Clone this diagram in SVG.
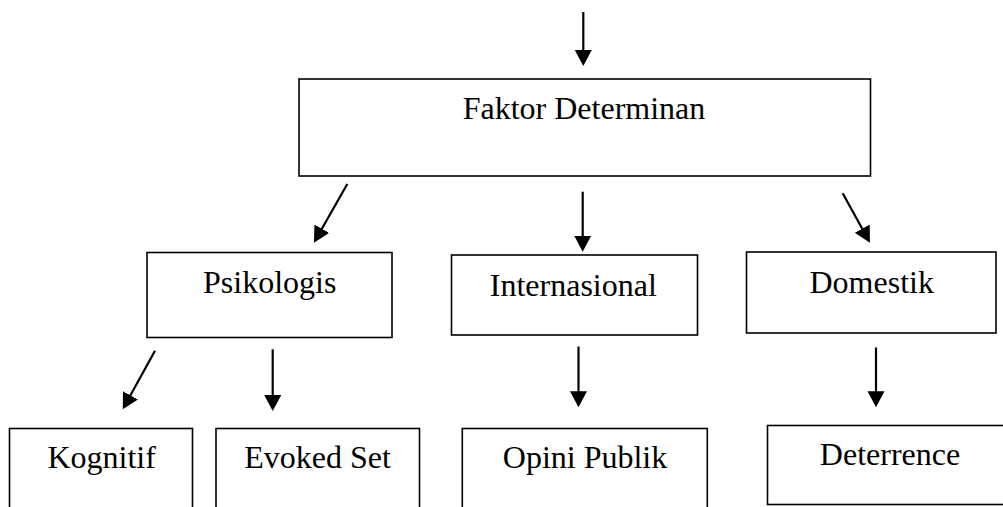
<svg xmlns="http://www.w3.org/2000/svg" width="1003" height="507" viewBox="0 0 1003 507">
<style>
.box{fill:#fff;stroke:#000;stroke-width:1.6}
.lbl{font-family:"Liberation Serif","Times New Roman",serif;font-size:32px;fill:#000;text-anchor:middle}
.arr{stroke:#000;stroke-width:2.2;fill:none;marker-end:url(#ah)}
</style>
<defs>
<marker id="ah" markerUnits="userSpaceOnUse" markerWidth="18" markerHeight="18" refX="8" refY="8.5" orient="auto">
<path d="M0,0 L16,8.5 L0,17 z" fill="#000"/>
</marker>
</defs>
<rect width="1003" height="507" fill="#fff"/>
<g id="connectors">
<line class="arr" x1="583.3" y1="12" x2="583.3" y2="58"/>
<line class="arr" x1="347.3" y1="184" x2="317.9" y2="235.7"/>
<line class="arr" x1="582.7" y1="191.7" x2="582.7" y2="243.7"/>
<line class="arr" x1="842.7" y1="193.3" x2="866.1" y2="235.7"/>
<line class="arr" x1="155" y1="350.7" x2="126.6" y2="402.3"/>
<line class="arr" x1="272.7" y1="349.3" x2="272.7" y2="403"/>
<line class="arr" x1="578.5" y1="346.5" x2="578.5" y2="399.3"/>
<line class="arr" x1="876" y1="347.5" x2="876" y2="399.3"/>
</g>
<g id="faktor-determinan">
<rect class="box" x="299" y="79" width="571.5" height="97"/>
<text class="lbl" x="584" y="119">Faktor Determinan</text>
</g>
<g id="psikologis">
<rect class="box" x="147" y="252.5" width="245" height="85"/>
<text class="lbl" x="269.7" y="292.7">Psikologis</text>
</g>
<g id="internasional">
<rect class="box" x="451.5" y="255" width="246" height="80"/>
<text class="lbl" x="573.3" y="296">Internasional</text>
</g>
<g id="domestik">
<rect class="box" x="746.5" y="252" width="249.5" height="81"/>
<text class="lbl" x="871.7" y="292.7">Domestik</text>
</g>
<g id="kognitif">
<rect class="box" x="9.5" y="428.5" width="183" height="100"/>
<text class="lbl" x="101.7" y="468.3">Kognitif</text>
</g>
<g id="evoked-set">
<rect class="box" x="216" y="428.5" width="203.5" height="100"/>
<text class="lbl" x="317.5" y="468.3">Evoked Set</text>
</g>
<g id="opini-publik">
<rect class="box" x="462.3" y="428.5" width="245" height="100"/>
<text class="lbl" x="585" y="467.7">Opini Publik</text>
</g>
<g id="deterrence">
<rect class="box" x="767.5" y="425.5" width="245" height="79"/>
<text class="lbl" x="890" y="465">Deterrence</text>
</g>
</svg>
